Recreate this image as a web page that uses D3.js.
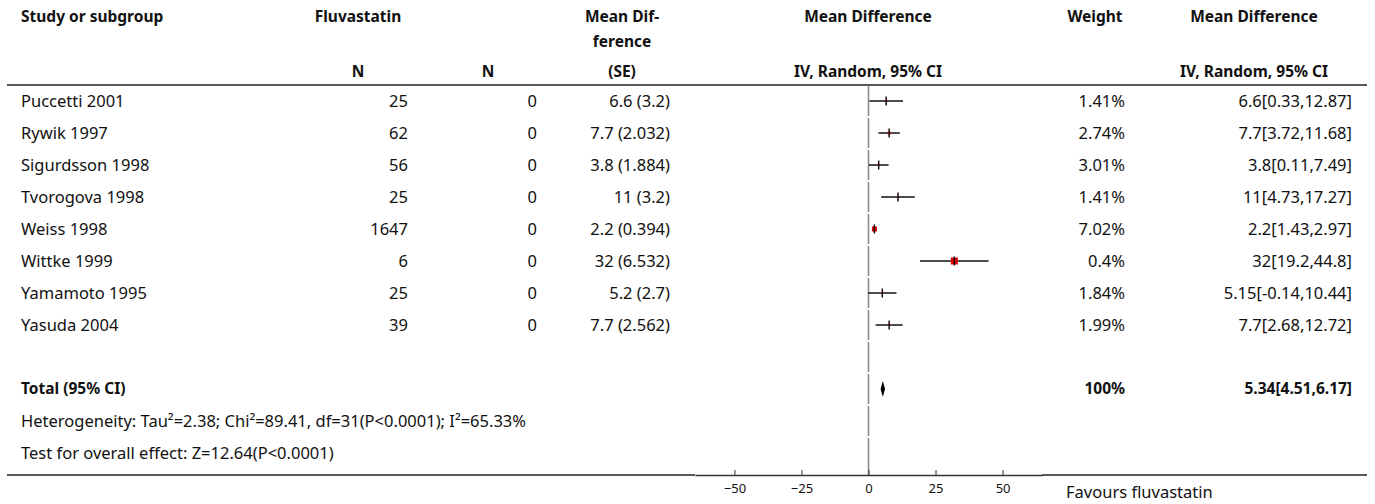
<!DOCTYPE html>
<html>
<head>
<meta charset="utf-8">
<script src="https://cdn.jsdelivr.net/npm/d3@7"></script>
<style>
  html, body { margin: 0; padding: 0; background: #fff; }
  svg { display: block; font-family: "Noto Sans", "DejaVu Sans", sans-serif; }
  text { fill: #111; }
</style>
</head>
<body>
<svg id="chart" width="1375" height="504"></svg>
<script>
// Fluvastatin forest plot: mean difference, IV random effects, 95% CI
const studies = ["Puccetti 2001", "Rywik 1997", "Sigurdsson 1998", "Tvorogova 1998",
                 "Weiss 1998", "Wittke 1999", "Yamamoto 1995", "Yasuda 2004"];
const nFluvastatin = [25, 62, 56, 25, 1647, 6, 25, 39];
const nControl = [0, 0, 0, 0, 0, 0, 0, 0];
const mdSeLabels = ["6.6 (3.2)", "7.7 (2.032)", "3.8 (1.884)", "11 (3.2)",
                    "2.2 (0.394)", "32 (6.532)", "5.2 (2.7)", "7.7 (2.562)"];
const meanDiff = [6.6, 7.7, 3.8, 11, 2.2, 32, 5.15, 7.7];
const ciLower = [0.33, 3.72, 0.11, 4.73, 1.43, 19.2, -0.14, 2.68];
const ciUpper = [12.87, 11.68, 7.49, 17.27, 2.97, 44.8, 10.44, 12.72];
const weights = [1.41, 2.74, 3.01, 1.41, 7.02, 0.4, 1.84, 1.99];
const totalEffect = 5.34;
const totalLower = 4.51;
const totalUpper = 6.17;
const totalWeight = 100;
const axisTicks = [-50, -25, 0, 25, 50];
const heterogeneityText = "Heterogeneity: Tau\u00B2=2.38; Chi\u00B2=89.41, df=31(P<0.0001); I\u00B2=65.33%";
const overallEffectText = "Test for overall effect: Z=12.64(P<0.0001)";
const favoursLabel = "Favours fluvastatin";

// marker square side (px) per study
const boxSide = [2, 3, 2, 2, 5, 7, 2, 2];

const svg = d3.select("#chart");
const FS = 16.5;      // body text
const FSB = 15.5;     // bold header text

const layout = {
  left: 7, right: 1367,
  headerLine: 85, rowH: 32, axisY: 475,
  plotL: 695, plotR: 1042,
  colStudy: 21, colFluva: 408, colCtrl: 537, colMd: 670,
  colWeight: 1125, colCi: 1352,
  hdrFluva: 358, hdrCtrl: 488, hdrMd: 622, hdrPlot: 868, hdrWeight: 1095, hdrCi: 1254
};

const x = d3.scaleLinear().domain([-64.7, 64.7]).range([layout.plotL, layout.plotR]);
// row i centre; rows 0..7 studies, 8 blank, 9 total, 10 heterogeneity, 11 overall effect
const rowY = d3.scaleLinear().domain([0, 1]).range([layout.headerLine + layout.rowH / 2, layout.headerLine + layout.rowH * 1.5]);

const fmtPct = d => d3.format("")(d) + "%";
const fmtCi = (m, l, u) => `${m}[${l},${u}]`;

// ---- header ----
const hdr = svg.append("g").attr("font-weight", "bold").attr("font-size", FSB);
function hText(txt, xPos, yPos, anchor) {
  hdr.append("text").attr("x", xPos).attr("y", yPos).attr("dy", "0.35em")
    .attr("text-anchor", anchor).text(txt);
}
hText("Study or subgroup", layout.colStudy, 17, "start");
hText("Fluvastatin", layout.hdrFluva, 17, "middle");
hText("Mean Dif-", layout.hdrMd, 17, "middle");
hText("ference", layout.hdrMd, 42, "middle");
hText("Mean Difference", layout.hdrPlot, 17, "middle");
hText("Weight", layout.hdrWeight, 17, "middle");
hText("Mean Difference", layout.hdrCi, 17, "middle");
hText("N", layout.hdrFluva, 72, "middle");
hText("N", layout.hdrCtrl, 72, "middle");
hText("(SE)", layout.hdrMd, 72, "middle");
hText("IV, Random, 95% CI", layout.hdrPlot, 72, "middle");
hText("IV, Random, 95% CI", layout.hdrCi, 72, "middle");

svg.append("line")
  .attr("x1", layout.left).attr("x2", layout.right)
  .attr("y1", layout.headerLine).attr("y2", layout.headerLine)
  .attr("stroke", "#222").attr("stroke-width", 1.5);

// ---- zero reference line, broken at each row boundary ----
const nRows = 12;
const zeroG = svg.append("g");
for (let i = 0; i < nRows; i++) {
  const top = layout.headerLine + i * layout.rowH + 1;
  const bottom = i === nRows - 1 ? layout.axisY : layout.headerLine + (i + 1) * layout.rowH - 1;
  zeroG.append("line")
    .attr("x1", x(0)).attr("x2", x(0))
    .attr("y1", top).attr("y2", bottom)
    .attr("stroke", "#8c8c8c").attr("stroke-width", 1.6);
}

// ---- study rows ----
const rows = svg.append("g").attr("font-size", FS);
studies.forEach((name, i) => {
  const yc = rowY(i);
  const t = (txt, xp, anchor) => rows.append("text").attr("x", xp).attr("y", yc)
    .attr("dy", "0.35em").attr("text-anchor", anchor).text(txt);
  t(name, layout.colStudy, "start");
  t(nFluvastatin[i], layout.colFluva, "end");
  t(nControl[i], layout.colCtrl, "end");
  t(mdSeLabels[i], layout.colMd, "end");
  t(fmtPct(weights[i]), layout.colWeight, "end");
  t(fmtCi(meanDiff[i], ciLower[i], ciUpper[i]), layout.colCi, "end");
});

const marks = svg.append("g");
studies.forEach((name, i) => {
  const yc = rowY(i);
  marks.append("line")
    .attr("x1", x(ciLower[i])).attr("x2", x(ciUpper[i]))
    .attr("y1", yc).attr("y2", yc)
    .attr("stroke", "#111").attr("stroke-width", 1.5);
  const s = boxSide[i];
  marks.append("rect")
    .attr("x", x(meanDiff[i]) - s / 2).attr("y", yc - s / 2)
    .attr("width", s).attr("height", s)
    .attr("fill", "#e00000");
  marks.append("line")
    .attr("x1", x(meanDiff[i])).attr("x2", x(meanDiff[i]))
    .attr("y1", yc - 4.5).attr("y2", yc + 4.5)
    .attr("stroke", "#111").attr("stroke-width", 1.5);
});

// ---- pooled estimate ----
const totalRow = 9;
const yT = rowY(totalRow);
svg.append("path")
  .attr("d", d3.line()([
    [x(totalLower), yT], [x(totalEffect), yT - 8],
    [x(totalUpper), yT], [x(totalEffect), yT + 8]
  ]) + "Z")
  .attr("fill", "#000");

const tot = svg.append("g").attr("font-size", FSB).attr("font-weight", "bold");
tot.append("text").attr("x", layout.colStudy).attr("y", yT).attr("dy", "0.35em").text("Total (95% CI)");
tot.append("text").attr("x", layout.colWeight).attr("y", yT).attr("dy", "0.35em")
  .attr("text-anchor", "end").text(fmtPct(totalWeight));
tot.append("text").attr("x", layout.colCi).attr("y", yT).attr("dy", "0.35em")
  .attr("text-anchor", "end").text(fmtCi(totalEffect, totalLower, totalUpper));

svg.append("text").attr("font-size", FS).attr("x", layout.colStudy).attr("y", rowY(10))
  .attr("dy", "0.35em").text(heterogeneityText);
svg.append("text").attr("font-size", FS).attr("x", layout.colStudy).attr("y", rowY(11))
  .attr("dy", "0.35em").text(overallEffectText);

// ---- bottom rule and axis ----
svg.append("line")
  .attr("x1", layout.left).attr("x2", layout.plotL)
  .attr("y1", layout.axisY).attr("y2", layout.axisY)
  .attr("stroke", "#222").attr("stroke-width", 1.5);
svg.append("line")
  .attr("x1", layout.plotR).attr("x2", layout.right)
  .attr("y1", layout.axisY).attr("y2", layout.axisY)
  .attr("stroke", "#222").attr("stroke-width", 1.5);

const axisG = svg.append("g").attr("transform", `translate(0,${layout.axisY})`)
  .call(d3.axisBottom(x).tickValues(axisTicks).tickSize(-5).tickSizeOuter(0).tickPadding(9));
axisG.select(".domain").attr("stroke", "#333").attr("stroke-width", 1.5);
axisG.selectAll(".tick line").attr("stroke", "#333");
axisG.selectAll(".tick text").attr("font-size", 13).attr("font-family", "Noto Sans").attr("fill", "#111");

svg.append("text").attr("font-size", FS).attr("x", 1066).attr("y", 492)
  .attr("dy", "0.35em").text(favoursLabel);
</script>
</body>
</html>
